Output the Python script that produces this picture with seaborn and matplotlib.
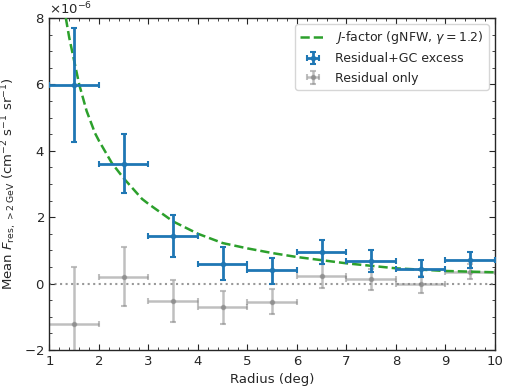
import numpy as np
import pandas as pd
import matplotlib
matplotlib.use("Agg")
import matplotlib.pyplot as plt
import seaborn as sns
from matplotlib.ticker import AutoMinorLocator

# ---- data (units of 1e-6) ----
radius = [1.5, 2.5, 3.5, 4.5, 5.5, 6.5, 7.5, 8.5, 9.5]
excess_val = [5.98, 3.61, 1.44, 0.60, 0.40, 0.95, 0.69, 0.44, 0.72]
excess_lo = [4.25, 2.72, 0.81, 0.11, 0.00, 0.59, 0.36, 0.19, 0.48]
excess_hi = [7.70, 4.50, 2.08, 1.09, 0.78, 1.30, 1.00, 0.70, 0.95]
resid_val = [-1.23, 0.21, -0.53, -0.71, -0.54, 0.23, 0.13, 0.00, 0.36]
resid_lo = [-3.00, -0.69, -1.17, -1.21, -0.93, -0.12, -0.19, -0.27, 0.13]
resid_hi = [0.50, 1.10, 0.10, -0.22, -0.15, 0.59, 0.44, 0.24, 0.59]
jr = [1.33, 1.4, 1.6, 1.75, 1.92, 2.0, 2.26, 2.5, 2.87, 3.0, 3.5, 4.0, 4.5, 5.0, 5.5, 6.0, 7.0, 8.0, 9.0, 10.0]
jval = [8.0, 7.4, 6.0, 5.2, 4.53, 4.3, 3.63, 3.17, 2.55, 2.4, 1.87, 1.5, 1.22, 1.06, 0.92, 0.80, 0.61, 0.46, 0.38, 0.34]
scale = 1e-6

sns.set_style("ticks")
plt.rcParams.update({
    "font.family": ["DejaVu Sans"],
    "xtick.direction": "in", "ytick.direction": "in",
    "xtick.top": True, "ytick.right": True,
    "xtick.minor.visible": True, "ytick.minor.visible": True,
    "font.size": 9.5,
})

fig = plt.figure(figsize=(5.05, 3.9), dpi=100)
ax = fig.add_axes([0.098, 0.1026, 0.882, 0.8513])

r = np.array(radius)
xerr = 0.5
ev = np.array(excess_val) * scale
rv = np.array(resid_val) * scale

ax.axhline(0, color="gray", ls=":", lw=1.5, alpha=0.8, zorder=1)

dfj = pd.DataFrame({"r": jr, "J": np.array(jval) * scale})
sns.lineplot(data=dfj, x="r", y="J", ax=ax, color="#2ca02c", lw=1.8,
             ls="--", label=r"$J$-factor (gNFW, $\gamma = 1.2$)", zorder=3)

ax.errorbar(r, ev, xerr=xerr,
            yerr=[ev - np.array(excess_lo) * scale, np.array(excess_hi) * scale - ev],
            fmt="o", ms=3, color="#1f77b4", lw=2, capsize=2.5, capthick=1.5,
            label="Residual+GC excess", zorder=4)
ax.errorbar(r, rv, xerr=xerr,
            yerr=[rv - np.array(resid_lo) * scale, np.array(resid_hi) * scale - rv],
            fmt="o", ms=3, color="gray", alpha=0.5, lw=1.8, capsize=2.5, capthick=1.5,
            label="Residual only", zorder=2)

ax.set_xlim(1, 10)
ax.set_ylim(-2e-6, 8e-6)
ax.ticklabel_format(axis="y", style="sci", scilimits=(0, 0), useMathText=True)
ax.xaxis.set_minor_locator(AutoMinorLocator(5))
ax.yaxis.set_minor_locator(AutoMinorLocator(4))
ax.tick_params(which="major", length=4, width=0.8)
ax.tick_params(which="minor", length=2, width=0.6)
for s in ax.spines.values():
    s.set_linewidth(1.0)
ax.set_xlabel("Radius (deg)")
ax.set_ylabel(r"Mean $F_{\rm res,\,>2\,GeV}$ (cm$^{-2}$ s$^{-1}$ sr$^{-1}$)")
ax.legend(loc="upper right", fontsize=9, framealpha=0.8, handlelength=2.0)

fig.savefig("out.png", dpi=100)
